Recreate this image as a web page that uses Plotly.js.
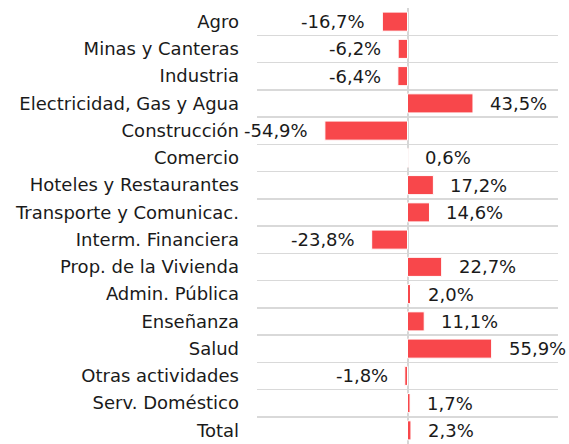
<!DOCTYPE html>
<html>
<head>
<meta charset="utf-8">
<script src="https://cdn.plot.ly/plotly-3.0.1.min.js"></script>
<style>html,body{margin:0;padding:0;background:#fff;}</style>
</head>
<body>
<div id="chart" style="width:569px;height:444px;"></div>
<script>
const categories = [
  "Agro", "Minas y Canteras", "Industria", "Electricidad, Gas y Agua",
  "Construcción", "Comercio", "Hoteles y Restaurantes", "Transporte y Comunicac.",
  "Interm. Financiera", "Prop. de la Vivienda", "Admin. Pública", "Enseñanza",
  "Salud", "Otras actividades", "Serv. Doméstico", "Total"
];
const values = [-16.7, -6.2, -6.4, 43.5, -54.9, 0.6, 17.2, 14.6, -23.8, 22.7, 2.0, 11.1, 55.9, -1.8, 1.7, 2.3];
const labels = values.map(v => v.toFixed(1).replace('.', ',') + '%');

const FONT = "DejaVu Sans, sans-serif";

const trace = {
  type: 'bar',
  orientation: 'h',
  x: values,
  y: categories,
  marker: { color: '#f8474b', line: { color: '#ffffff', width: 1 } },
  hoverinfo: 'none'
};

const annotations = values.map((v, i) => ({
  x: v,
  y: categories[i],
  xref: 'x', yref: 'y',
  text: labels[i],
  showarrow: false,
  xanchor: v >= 0 ? 'left' : 'right',
  xshift: v >= 0 ? 15 : -15,
  font: { family: FONT, size: 18, color: '#1a1a1a' }
}));

const layout = {
  width: 569, height: 444,
  margin: { l: 257, r: 11, t: 8, b: 0 },
  paper_bgcolor: '#ffffff', plot_bgcolor: '#ffffff',
  showlegend: false,
  bargap: 0.3,
  xaxis: {
    range: [-100, 100],
    showgrid: false,
    zeroline: true, zerolinecolor: '#d6d6d6', zerolinewidth: 2,
    showticklabels: false, ticks: '', fixedrange: true
  },
  yaxis: {
    type: 'category',
    range: [15.5, -0.5],
    tickson: 'boundaries',
    showgrid: true, gridcolor: '#d9d9d9', gridwidth: 1.5,
    ticks: '',
    ticklabelstandoff: 17,
    tickfont: { family: FONT, size: 18, color: '#1a1a1a' },
    showline: false, zeroline: false, fixedrange: true
  },
  annotations: annotations
};

Plotly.newPlot('chart', [trace], layout, { displayModeBar: false, staticPlot: true });
</script>
</body>
</html>
